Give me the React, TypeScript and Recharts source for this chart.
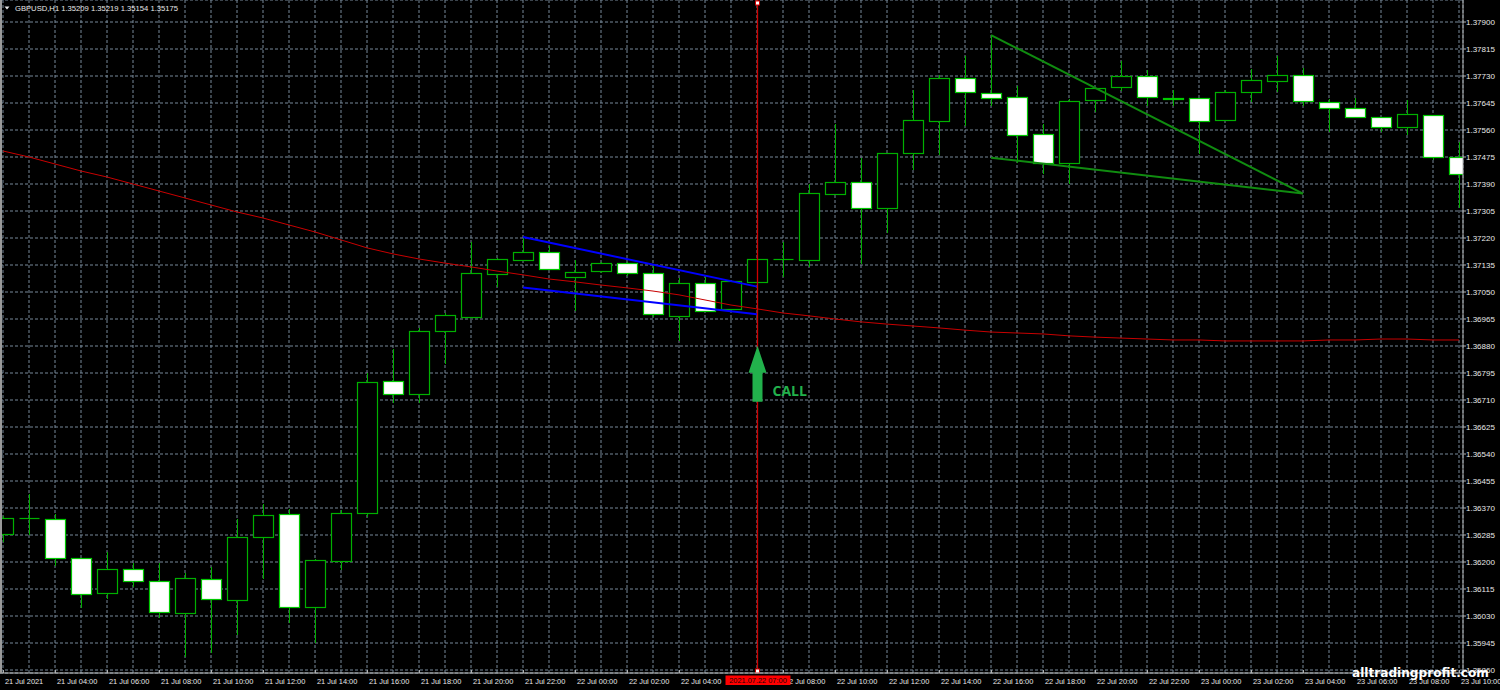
import React from 'react';
import {
  ComposedChart,
  Bar,
  Line,
  XAxis,
  YAxis,
  CartesianGrid,
  ReferenceLine,
  ReferenceDot,
} from 'recharts';

// ---- data (GBPUSD H1, 21 Jul 02:00 .. 23 Jul 10:00) ----
const opens = [
  1.36288, 1.36339, 1.36335, 1.36213, 1.36103, 1.36178, 1.3614, 1.3604, 1.36147, 1.3608,
  1.36279, 1.36351, 1.36058, 1.36203, 1.36354, 1.3677, 1.36729, 1.36927, 1.36971, 1.37107,
  1.37151, 1.37176, 1.37097, 1.37116, 1.37141, 1.3711, 1.36975, 1.37078, 1.36997, 1.37082,
  1.37154, 1.37151, 1.37359, 1.37396, 1.37315, 1.37488, 1.37588, 1.37724, 1.37677, 1.37664,
  1.37548, 1.37456, 1.37655, 1.37695, 1.3773, 1.37661, 1.37661, 1.37592, 1.3768, 1.37714,
  1.37733, 1.37648, 1.37629, 1.37601, 1.3757, 1.37607, 1.37475,
];
const highs = [
  1.36345, 1.36414, 1.36351, 1.36213, 1.36232, 1.36197, 1.36197, 1.36165, 1.36184, 1.36335,
  1.36383, 1.36367, 1.3621, 1.36364, 1.36795, 1.36871, 1.36937, 1.36984, 1.37208, 1.37157,
  1.37223, 1.37195, 1.37151, 1.37145, 1.37145, 1.37132, 1.37094, 1.37097, 1.37085, 1.37154,
  1.37208, 1.3739, 1.37579, 1.37472, 1.37488, 1.37686, 1.37733, 1.37793, 1.37859, 1.37699,
  1.37579, 1.37658, 1.37692, 1.37777, 1.37749, 1.37686, 1.37661, 1.37686, 1.37752, 1.37793,
  1.37755, 1.37658, 1.37661, 1.37601, 1.37655, 1.37607, 1.37522,
];
const lows = [
  1.36263, 1.36285, 1.36187, 1.36055, 1.36084, 1.36121, 1.36024, 1.35901, 1.35914, 1.3597,
  1.36147, 1.36008, 1.35945, 1.36175, 1.36342, 1.36701, 1.36701, 1.36823, 1.36971, 1.37066,
  1.37148, 1.37119, 1.3699, 1.3711, 1.371, 1.36971, 1.36896, 1.3699, 1.36993, 1.37078,
  1.37097, 1.37129, 1.37355, 1.37138, 1.37236, 1.37434, 1.37481, 1.37573, 1.37636, 1.37456,
  1.37422, 1.3739, 1.37617, 1.37683, 1.37636, 1.37636, 1.37485, 1.37588, 1.37648, 1.3768,
  1.37636, 1.37554, 1.37598, 1.37554, 1.37544, 1.37466, 1.37315,
];
const closes = [
  1.36339, 1.36339, 1.36213, 1.36099, 1.36178, 1.3614, 1.36043, 1.3615, 1.36084, 1.36279,
  1.36348, 1.36058, 1.36206, 1.36354, 1.36767, 1.36729, 1.36927, 1.36978, 1.3711, 1.37154,
  1.37176, 1.37123, 1.37113, 1.37141, 1.3711, 1.36981, 1.37078, 1.3699, 1.37085, 1.37154,
  1.37154, 1.37362, 1.37396, 1.37315, 1.37488, 1.37592, 1.37724, 1.3768, 1.37661, 1.37544,
  1.37456, 1.37651, 1.37692, 1.3773, 1.37664, 1.37658, 1.37588, 1.3768, 1.37718, 1.37733,
  1.3765, 1.37629, 1.37601, 1.3757, 1.3761, 1.37475, 1.37422,
];
const movingAverage = [
  1.37494, 1.37475, 1.37453, 1.37431, 1.37412, 1.3739, 1.37368, 1.37346, 1.37324, 1.37302,
  1.37283, 1.37261, 1.37239, 1.37214, 1.37189, 1.3717, 1.37154, 1.37141, 1.37129, 1.37116,
  1.37104, 1.37091, 1.37082, 1.37072, 1.37063, 1.37053, 1.37041, 1.37025, 1.37009, 1.36997,
  1.36984, 1.36975, 1.36965, 1.36956, 1.36949, 1.36943, 1.36937, 1.3693, 1.36924, 1.36921,
  1.36918, 1.36912, 1.36908, 1.36905, 1.36902, 1.36899, 1.36899, 1.36896, 1.36896, 1.36896,
  1.36896, 1.36899, 1.36899, 1.36902, 1.36902, 1.36899, 1.36899,
];
const timeLabels = [
  '21 Jul 2021', '21 Jul 04:00', '21 Jul 06:00', '21 Jul 08:00', '21 Jul 10:00',
  '21 Jul 12:00', '21 Jul 14:00', '21 Jul 16:00', '21 Jul 18:00', '21 Jul 20:00',
  '21 Jul 22:00', '22 Jul 00:00', '22 Jul 02:00', '22 Jul 04:00', '22 Jul 06:00',
  '22 Jul 08:00', '22 Jul 10:00', '22 Jul 12:00', '22 Jul 14:00', '22 Jul 16:00',
  '22 Jul 18:00', '22 Jul 20:00', '22 Jul 22:00', '23 Jul 00:00', '23 Jul 02:00',
  '23 Jul 04:00', '23 Jul 06:00', '23 Jul 08:00', '23 Jul 10:00',
];
const priceTicks = [
  1.379, 1.37815, 1.3773, 1.37645, 1.3756, 1.37475, 1.3739, 1.37305, 1.3722, 1.37135,
  1.3705, 1.36965, 1.3688, 1.36795, 1.3671, 1.36625, 1.3654, 1.36455, 1.3637, 1.36285,
  1.362, 1.36115, 1.3603, 1.35945, 1.3586,
];
const priceDomain = [1.358506, 1.379693];
const barDomain = [-3 / 26, 1460 / 26];

const blueUpper = [{ n: 20, p: 1.37223 }, { n: 29, p: 1.37067 }];
const blueLower = [{ n: 20, p: 1.37064 }, { n: 29, p: 1.3698 }];
const greenUpper = [{ n: 38, p: 1.37859 }, { n: 50, p: 1.3736 }];
const greenLower = [{ n: 38, p: 1.37473 }, { n: 50, p: 1.3736 }];

const signalBar = 29;
const signalPrice = 1.36796;
const signalTime = '2021.07.22 07:00';
const signalText = 'CALL';
const titleText = 'GBPUSD,H1  1.35209 1.35219 1.35154 1.35175';
const watermark = 'alltradingprofit.com';

const data = opens.map((o, i) => ({
  n: i,
  open: o,
  high: highs[i],
  low: lows[i],
  close: closes[i],
  ma: movingAverage[i],
}));
// signal bar's tick last so its red time box is drawn above neighbouring labels
const hourTicks = [...data.map((d) => d.n).filter((n) => n !== signalBar), signalBar];

const WICK = '#00b000';
const FONT = '"Liberation Sans", Arial, sans-serif';
const AXIS_TEXT = '#e8e8e8';

const Candle = (props: any) => {
  const { x, y, width, height, payload } = props;
  if (x == null || y == null || !payload) return <g />;
  const top = Math.min(y, y + height);
  const h = Math.abs(height);
  const span = payload.high - payload.low;
  const py = (p: number) => top + ((payload.high - p) / span) * h;
  const c = Math.round(x + width / 2);
  const cx = c + 0.5;
  const yO = py(payload.open);
  const yC = py(payload.close);
  const bTop = Math.round(Math.min(yO, yC)) + 0.5;
  const bBot = Math.round(Math.max(yO, yC)) + 0.5;
  const bear = payload.close < payload.open;
  return (
    <g>
      <line x1={cx} x2={cx} y1={Math.round(top)} y2={Math.round(top + h)} stroke={WICK} strokeWidth={1} />
      {bBot - bTop < 1 ? (
        <line x1={c - 9.5} x2={c + 10.5} y1={bTop} y2={bTop} stroke={WICK} strokeWidth={1.2} />
      ) : (
        <rect
          x={c - 9.5}
          y={bTop}
          width={20}
          height={bBot - bTop}
          fill={bear ? '#ffffff' : '#000000'}
          stroke={bear ? '#00c800' : WICK}
          strokeWidth={1.2}
        />
      )}
    </g>
  );
};

const XTick = (props: any) => {
  const { x, y, payload } = props;
  const n = payload.value;
  const px = Math.round(x) + 0.5;
  if (n === signalBar) {
    return (
      <g>
        <rect x={px - 32} y={y + 2.5} width={65} height={9.5} fill="#ff0000" />
        <text x={px + 0.5} y={y + 10.3} textAnchor="middle" fontSize={7.4} fontFamily={FONT} fill="#1a0000">
          {signalTime}
        </text>
      </g>
    );
  }
  if (n % 2 !== 0) return <g />;
  const hidden = Math.abs(n - signalBar) === 1 && n < signalBar;
  return (
    <g>
      <line x1={px} x2={px} y1={y - 3} y2={y} stroke="#b0b0b0" />
      {!hidden && (
        <text x={x + 2} y={y + 10.5} fill={AXIS_TEXT} fontSize={7.4} fontFamily={FONT} textAnchor="start">
          {timeLabels[n / 2]}
        </text>
      )}
    </g>
  );
};

const SignalLine = (props: any) => {
  const { x1, y1, y2 } = props;
  const x = Math.round(x1) + 0.5;
  const top = Math.min(y1, y2);
  const bottom = Math.max(y1, y2);
  return (
    <g>
      <line x1={x} x2={x} y1={top} y2={bottom} stroke="#d00000" strokeWidth={1.3} />
      <rect x={x - 2} y={top + 1} width={4} height={4} fill="#ffffff" stroke="#d00000" strokeWidth={1} />
      <rect x={x - 2} y={bottom - 4} width={4} height={4} fill="#ffffff" stroke="#d00000" strokeWidth={1} />
    </g>
  );
};

const CallArrow = (props: any) => {
  const { cx, cy } = props;
  if (cx == null || cy == null) return <g />;
  const a = Math.round(cx) + 0.5;
  const pts = [
    [a, cy - 27],
    [a + 9, cy],
    [a + 5, cy],
    [a + 5, cy + 29],
    [a - 5, cy + 29],
    [a - 5, cy],
    [a - 9, cy],
  ]
    .map((p) => p.join(','))
    .join(' ');
  return (
    <g>
      <polygon points={pts} fill="#22b14c" />
      <text x={a + 15} y={cy + 23.5} fill="#22b14c" fontSize={14} fontWeight="bold" fontFamily='"Open Sans", sans-serif'>
        {signalText}
      </text>
    </g>
  );
};

export default function App() {
  return (
    <div
      style={{
        position: 'fixed',
        left: 0,
        top: 0,
        width: 1500,
        height: 690,
        background: '#000000',
        overflow: 'hidden',
      }}
    >
      <ComposedChart
        width={1500}
        height={690}
        data={data}
        margin={{ top: 0, right: 0, bottom: 0, left: 0 }}
        style={{ background: '#000000' }}
      >
        <CartesianGrid stroke="#778899" strokeDasharray="3 2" strokeWidth={1} />
        <XAxis
          dataKey="n"
          type="number"
          domain={barDomain}
          allowDataOverflow
          ticks={hourTicks}
          interval={0}
          height={17}
          tickSize={0}
          tickMargin={0}
          tickLine={false}
          axisLine={{ stroke: '#c0c0c0' }}
          tick={<XTick />}
        />
        <YAxis
          orientation="right"
          type="number"
          domain={priceDomain}
          allowDataOverflow
          ticks={priceTicks}
          interval={0}
          width={37}
          tickSize={3}
          tickMargin={0}
          axisLine={{ stroke: '#b0b0b0' }}
          tickLine={{ stroke: '#b0b0b0' }}
          tick={{ fill: AXIS_TEXT, fontSize: 8, fontFamily: FONT }}
          tickFormatter={(v: number) => v.toFixed(5)}
        />
        <Bar
          dataKey={(d: any) => [d.low, d.high]}
          barSize={19}
          shape={<Candle />}
          isAnimationActive={false}
        />
        <Line
          dataKey="ma"
          type="linear"
          stroke="#c80000"
          strokeWidth={1}
          dot={false}
          activeDot={false}
          isAnimationActive={false}
        />
        <ReferenceLine segment={blueUpper.map((d) => ({ x: d.n, y: d.p }))} stroke="#0000ff" strokeWidth={2} />
        <ReferenceLine segment={blueLower.map((d) => ({ x: d.n, y: d.p }))} stroke="#0000ff" strokeWidth={2} />
        <ReferenceLine segment={greenUpper.map((d) => ({ x: d.n, y: d.p }))} stroke="#108c10" strokeWidth={2} />
        <ReferenceLine segment={greenLower.map((d) => ({ x: d.n, y: d.p }))} stroke="#108c10" strokeWidth={2} />
        <ReferenceLine x={signalBar} stroke="#d00000" shape={<SignalLine />} />
        <ReferenceDot x={signalBar} y={signalPrice} shape={<CallArrow />} />
      </ComposedChart>
      <svg
        width={1500}
        height={690}
        style={{ position: 'absolute', left: 0, top: 0, pointerEvents: 'none' }}
      >
        <line x1={1} x2={1} y1={0} y2={673} stroke="#9a9a9a" strokeWidth={2} />
        <polygon points="4.5,6.5 9.5,6.5 7,9.5" fill="#e8e8e8" />
        <text x={15} y={10.8} fill="#e8e8e8" fontSize={8} fontFamily={FONT} textLength={163} lengthAdjust="spacingAndGlyphs">
          {titleText}
        </text>
        <text x={1352} y={677} fill="#ffffff" fontSize={12.5} fontWeight="bold" fontFamily='"DejaVu Sans", sans-serif' textLength={137} lengthAdjust="spacingAndGlyphs">
          {watermark}
        </text>
      </svg>
    </div>
  );
}
